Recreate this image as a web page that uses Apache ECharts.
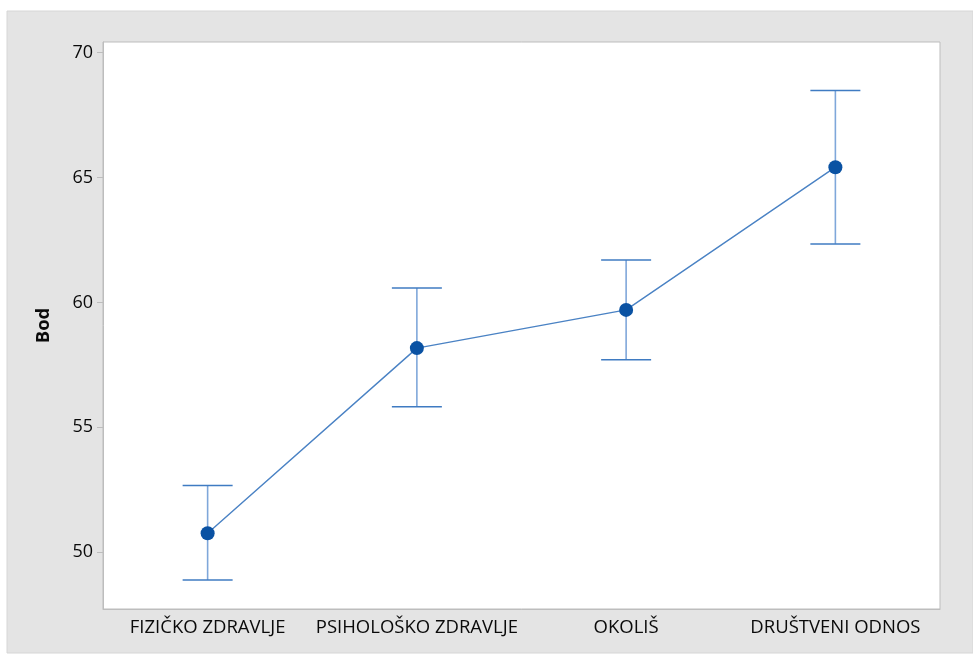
<!DOCTYPE html>
<html>
<head>
<meta charset="utf-8">
<script src="https://cdn.jsdelivr.net/npm/echarts@6/dist/echarts.min.js"></script>
<style>html,body{margin:0;padding:0;background:#fff;}#c{width:973px;height:655px;}</style>
</head>
<body>
<div id="c"></div>
<script>
var categories = ['FIZIČKO ZDRAVLJE', 'PSIHOLOŠKO ZDRAVLJE', 'OKOLIŠ', 'DRUŠTVENI ODNOS'];
var means = [50.76, 58.17, 59.70, 65.41];
var upper = [52.67, 60.58, 61.70, 68.48];
var lower = [48.89, 55.82, 57.70, 62.34];
var yTicks = [50, 55, 60, 65, 70];

var chart = echarts.init(document.getElementById('c'));
var errData = categories.map(function (c, i) { return [i, lower[i], upper[i]]; });
var font = '"Open Sans", "Noto Sans", sans-serif';
chart.setOption({
  backgroundColor: '#ffffff',
  animation: false,
  graphic: [{
    type: 'rect', z: -10, silent: true,
    shape: { x: 7, y: 11, width: 966, height: 642 },
    style: { fill: '#e4e4e4', stroke: '#d6d6d6', lineWidth: 1 }
  }],
  grid: {
    left: 103, right: 33, top: 42, bottom: 46,
    show: true, backgroundColor: '#ffffff', borderColor: '#bdbdbd', borderWidth: 1
  },
  xAxis: {
    type: 'category', data: categories, boundaryGap: true,
    axisLine: { lineStyle: { color: '#bdbdbd' } },
    axisTick: { alignWithLabel: true, length: 6, lineStyle: { color: '#bdbdbd' } },
    axisLabel: { color: '#0a0a0a', fontSize: 18.5, fontFamily: font, margin: 9, interval: 0 },
    splitLine: { show: false }
  },
  yAxis: {
    type: 'value', min: 47.73, max: 70.42,
    name: 'Bod', nameLocation: 'middle', nameGap: 50,
    nameTextStyle: { color: '#0a0a0a', fontSize: 18.5, fontWeight: 'bold', fontFamily: font },
    axisLine: { show: true, lineStyle: { color: '#bdbdbd' } },
    axisTick: { show: true, length: 6, customValues: yTicks, lineStyle: { color: '#bdbdbd' } },
    axisLabel: { color: '#0a0a0a', fontSize: 18, fontFamily: font, margin: 10, customValues: yTicks },
    splitLine: { show: false }
  },
  series: [{
    type: 'custom',
    data: errData,
    z: 2,
    renderItem: function (params, api) {
      var x = api.value(0);
      var lo = api.coord([x, api.value(1)]);
      var hi = api.coord([x, api.value(2)]);
      var hw = 25;
      var st = { stroke: '#3f7bc2', lineWidth: 1.5 };
      return {
        type: 'group',
        children: [
          { type: 'line', shape: { x1: hi[0], y1: hi[1], x2: lo[0], y2: lo[1] }, style: { stroke: '#7fa7da', lineWidth: 1.6 } },
          { type: 'line', shape: { x1: hi[0] - hw, y1: hi[1], x2: hi[0] + hw, y2: hi[1] }, style: st },
          { type: 'line', shape: { x1: lo[0] - hw, y1: lo[1], x2: lo[0] + hw, y2: lo[1] }, style: st }
        ]
      };
    }
  }, {
    type: 'line',
    data: means,
    z: 3,
    symbol: 'circle', symbolSize: 14,
    itemStyle: { color: '#0a52a3' },
    lineStyle: { color: '#4a82c4', width: 1.4 }
  }]
});
</script>
</body>
</html>
